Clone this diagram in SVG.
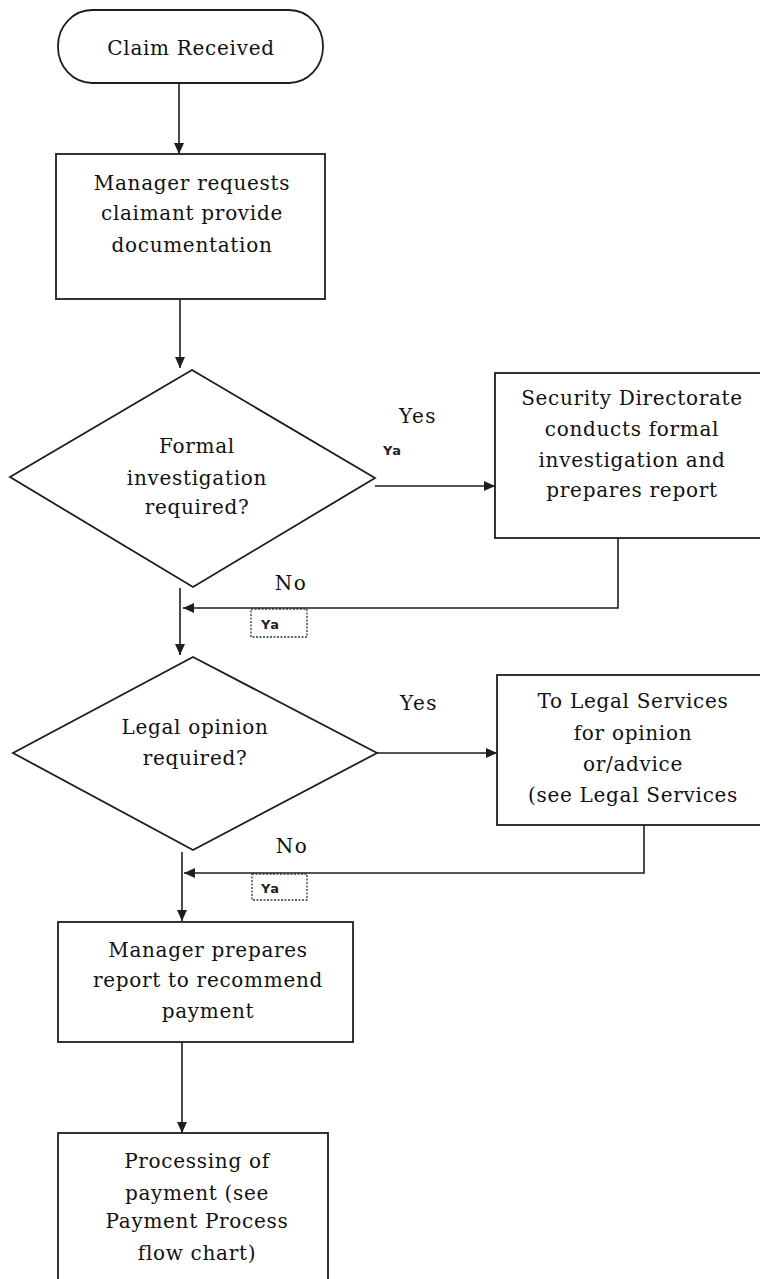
<svg xmlns="http://www.w3.org/2000/svg" width="760" height="1279" viewBox="0 0 760 1279">
<style>
.shape{fill:#fff;stroke:#1e1e1e;stroke-width:1.8}
.conn{fill:none;stroke:#1e1e1e;stroke-width:1.6}
.t{font-family:'DejaVu Serif','Liberation Serif',serif;font-size:20px;letter-spacing:0.7px;fill:#111;text-anchor:middle}
.lbl{font-family:'DejaVu Serif','Liberation Serif',serif;font-size:20px;letter-spacing:1.5px;fill:#111;text-anchor:middle}
.tiny{font-family:'DejaVu Sans','Liberation Sans',sans-serif;font-size:13px;font-weight:bold;letter-spacing:1px;fill:#222}
.dash{fill:none;stroke:#333;stroke-width:1.3;stroke-dasharray:2 1.5}
</style>
<defs>
<marker id="ah" markerUnits="userSpaceOnUse" markerWidth="12" markerHeight="11" refX="11" refY="5" orient="auto">
<path d="M0,0 L11,5 L0,10 Z" fill="#1e1e1e"/>
</marker>
</defs>
<rect width="760" height="1279" fill="#fff"/>
<g id="connectors">
<line class="conn" x1="179" y1="83" x2="179" y2="154" marker-end="url(#ah)"/>
<line class="conn" x1="180" y1="299" x2="180" y2="368" marker-end="url(#ah)"/>
<line class="conn" x1="375" y1="486" x2="495" y2="486" marker-end="url(#ah)"/>
<polyline class="conn" points="618,538 618,608 183,608" marker-end="url(#ah)"/>
<line class="conn" x1="180" y1="588" x2="180" y2="655" marker-end="url(#ah)"/>
<line class="conn" x1="376" y1="753" x2="497" y2="753" marker-end="url(#ah)"/>
<polyline class="conn" points="644,825 644,873 184,873" marker-end="url(#ah)"/>
<line class="conn" x1="182" y1="852" x2="182" y2="921" marker-end="url(#ah)"/>
<line class="conn" x1="182" y1="1042" x2="182" y2="1133" marker-end="url(#ah)"/>
</g>
<g id="label-yes1">
<text class="lbl" x="418" y="423">Yes</text>
<text class="tiny" x="383" y="455">Ya</text>
</g>
<g id="label-no1">
<text class="lbl" x="291" y="590">No</text>
<rect class="dash" x="251" y="609" width="56" height="28"/>
<text class="tiny" x="261" y="629">Ya</text>
</g>
<g id="label-yes2">
<text class="lbl" x="419" y="710">Yes</text>
</g>
<g id="label-no2">
<text class="lbl" x="292" y="853">No</text>
<rect class="dash" x="252" y="874" width="55" height="26"/>
<text class="tiny" x="261" y="893">Ya</text>
</g>
<g id="start">
<rect class="shape" x="58" y="10" width="265" height="73" rx="34" ry="36"/>
<text class="t" x="191" y="55">Claim Received</text>
</g>
<g id="request-docs">
<rect class="shape" x="56" y="154" width="269" height="145"/>
<text class="t" x="192" y="190">Manager requests</text>
<text class="t" x="192" y="220">claimant provide</text>
<text class="t" x="192" y="252">documentation</text>
</g>
<g id="formal-decision">
<polygon class="shape" points="192,370 375,478 193,587 10,477"/>
<text class="t" x="197" y="453">Formal</text>
<text class="t" x="197" y="485">investigation</text>
<text class="t" x="197" y="514">required?</text>
</g>
<g id="security">
<rect class="shape" x="495" y="373" width="275" height="165"/>
<text class="t" x="632" y="405">Security Directorate</text>
<text class="t" x="632" y="436">conducts formal</text>
<text class="t" x="632" y="467">investigation and</text>
<text class="t" x="632" y="497">prepares report</text>
</g>
<g id="legal-decision">
<polygon class="shape" points="193,657 377,753 193,850 13,753"/>
<text class="t" x="195" y="734">Legal opinion</text>
<text class="t" x="195" y="765">required?</text>
</g>
<g id="legal-services">
<rect class="shape" x="497" y="675" width="273" height="150"/>
<text class="t" x="633" y="708">To Legal Services</text>
<text class="t" x="633" y="740">for opinion</text>
<text class="t" x="633" y="771">or/advice</text>
<text class="t" x="633" y="802">(see Legal Services</text>
</g>
<g id="manager-report">
<rect class="shape" x="58" y="922" width="295" height="120"/>
<text class="t" x="208" y="957">Manager prepares</text>
<text class="t" x="208" y="987">report to recommend</text>
<text class="t" x="208" y="1018">payment</text>
</g>
<g id="processing">
<rect class="shape" x="58" y="1133" width="270" height="160"/>
<text class="t" x="197" y="1168">Processing of</text>
<text class="t" x="197" y="1200">payment (see</text>
<text class="t" x="197" y="1228">Payment Process</text>
<text class="t" x="197" y="1260">flow chart)</text>
</g>
</svg>
